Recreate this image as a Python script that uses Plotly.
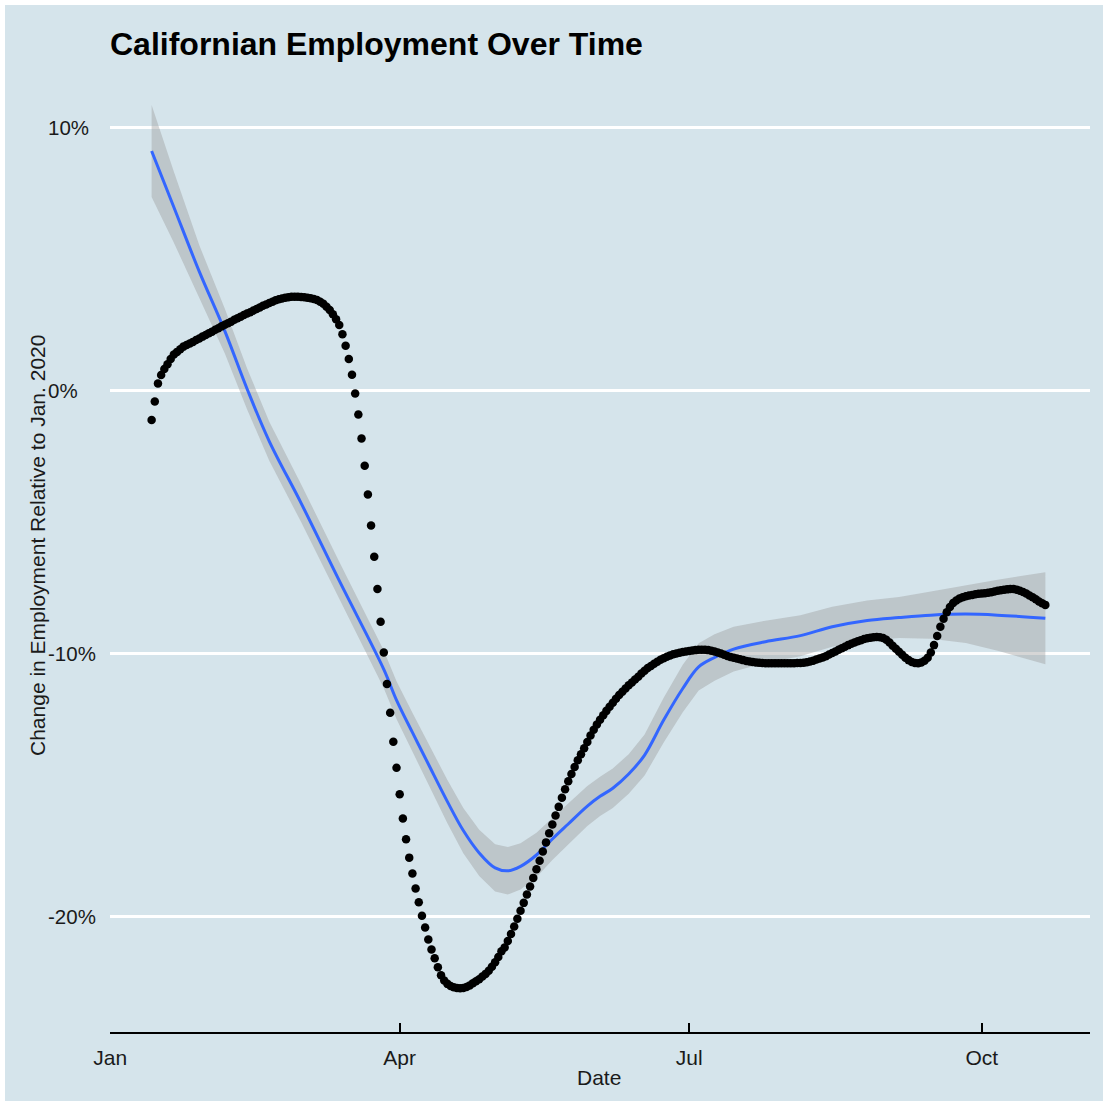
import pandas as pd
import plotly.graph_objects as go

TITLE = "Californian Employment Over Time"
Y_TITLE = "Change in Employment Relative to Jan. 2020"
X_TITLE = "Date"

# Daily change in employment (%) relative to January 2020, starting 14 Jan 2020
first_day = "2020-01-14"
employment_change = [
    -1.14, -0.44, 0.25, 0.57, 0.80, 0.98, 1.18, 1.35, 1.45, 1.55, 1.65, 1.71, 1.77, 1.83, 1.90,
    1.96, 2.03, 2.09, 2.16, 2.22, 2.29, 2.35, 2.42, 2.48, 2.54, 2.60, 2.67, 2.73, 2.79, 2.85,
    2.91, 2.96, 3.02, 3.08, 3.14, 3.20, 3.25, 3.31, 3.36, 3.41, 3.45, 3.48, 3.51, 3.53, 3.55,
    3.55, 3.55, 3.54, 3.53, 3.51, 3.49, 3.46, 3.42, 3.36, 3.28, 3.17, 3.04, 2.88, 2.69, 2.47,
    2.12, 1.68, 1.18, 0.58, -0.13, -0.93, -1.84, -2.88, -3.97, -5.15, -6.34, -7.57, -8.81, -9.98,
    -11.18, -12.27, -13.37, -14.36, -15.37, -16.29, -17.08, -17.78, -18.38, -18.95, -19.48,
    -19.99, -20.44, -20.89, -21.27, -21.61, -21.95, -22.25, -22.45, -22.58, -22.66, -22.71,
    -22.74, -22.75, -22.74, -22.70, -22.64, -22.56, -22.48, -22.40, -22.30, -22.20, -22.08,
    -21.93, -21.76, -21.56, -21.34, -21.20, -20.95, -20.68, -20.40, -20.10, -19.80, -19.50,
    -19.18, -18.88, -18.55, -18.22, -17.90, -17.55, -17.20, -16.85, -16.52, -16.18, -15.85,
    -15.50, -15.18, -14.88, -14.60, -14.33, -14.08, -13.85, -13.62, -13.38, -13.14, -12.92,
    -12.72, -12.54, -12.37, -12.20, -12.04, -11.89, -11.74, -11.60, -11.47, -11.35, -11.23,
    -11.12, -11.01, -10.90, -10.78, -10.67, -10.57, -10.49, -10.41, -10.33, -10.26, -10.20,
    -10.14, -10.09, -10.05, -10.02, -9.99, -9.96, -9.94, -9.92, -9.90, -9.89, -9.88, -9.88,
    -9.88, -9.89, -9.91, -9.94, -9.98, -10.02, -10.07, -10.11, -10.15, -10.18, -10.21, -10.24,
    -10.27, -10.30, -10.32, -10.34, -10.36, -10.37, -10.38, -10.39, -10.39, -10.39, -10.39,
    -10.39, -10.39, -10.39, -10.39, -10.39, -10.39, -10.38, -10.38, -10.37, -10.35, -10.32,
    -10.29, -10.25, -10.21, -10.17, -10.12, -10.06, -10.00, -9.94, -9.88, -9.82, -9.76, -9.70,
    -9.65, -9.60, -9.55, -9.51, -9.47, -9.44, -9.42, -9.40, -9.39, -9.40, -9.43, -9.50, -9.60,
    -9.72, -9.84, -9.95, -10.07, -10.18, -10.27, -10.34, -10.38, -10.39, -10.36, -10.29, -10.18,
    -9.98, -9.70, -9.35, -9.00, -8.70, -8.45, -8.25, -8.10, -8.00, -7.93, -7.88, -7.84, -7.81,
    -7.79, -7.77, -7.75, -7.74, -7.73, -7.71, -7.69, -7.66, -7.63, -7.61, -7.59, -7.58, -7.57,
    -7.57, -7.59, -7.63, -7.68, -7.74, -7.81, -7.88, -7.96, -8.04, -8.11, -8.17,
]

# Smoothed trend with the half-width of its confidence band
smooth_dates = [
    "2020-01-14", "2020-01-21", "2020-01-29", "2020-02-06", "2020-02-13", "2020-02-20",
    "2020-03-01", "2020-03-13", "2020-03-27", "2020-03-31", "2020-04-05", "2020-04-10",
    "2020-04-16", "2020-04-21", "2020-04-26", "2020-05-01", "2020-05-05", "2020-05-09",
    "2020-05-14", "2020-05-19", "2020-05-24", "2020-05-30", "2020-06-03", "2020-06-07",
    "2020-06-12", "2020-06-17", "2020-06-23", "2020-06-29", "2020-07-04", "2020-07-09",
    "2020-07-15", "2020-07-25", "2020-08-05", "2020-08-15", "2020-08-26", "2020-09-05",
    "2020-09-15", "2020-09-26", "2020-10-06", "2020-10-21",
]
smooth_fit = [
    9.09, 6.95, 4.50, 2.25, 0.05, -1.95,
    -4.30, -7.25, -10.62, -11.79, -13.02, -14.22,
    -15.65, -16.75, -17.60, -18.17, -18.28, -18.11,
    -17.68, -17.07, -16.50, -15.82, -15.45, -15.14,
    -14.60, -13.88, -12.55, -11.35, -10.53, -10.17,
    -9.85, -9.57, -9.34, -9.00, -8.76, -8.65,
    -8.56, -8.52, -8.56, -8.68,
]
smooth_se = [
    1.75, 1.35, 1.00, 0.85, 0.78, 0.74,
    0.72, 0.72, 0.72, 0.72, 0.75, 0.78,
    0.82, 0.86, 0.88, 0.90, 0.90, 0.88,
    0.85, 0.80, 0.78, 0.76, 0.75, 0.75,
    0.75, 0.78, 0.85, 0.90, 0.90, 0.88,
    0.85, 0.80, 0.78, 0.76, 0.76, 0.78,
    0.90, 1.10, 1.35, 1.75,
]

x_ticks = ["2020-01-01", "2020-04-01", "2020-07-01", "2020-10-01"]
x_tick_labels = ["Jan", "Apr", "Jul", "Oct"]
y_ticks = [-20, -10, 0, 10]
y_tick_labels = ["-20%", "-10%", "0%", "10%"]

BG = "#d5e4eb"
FONT = "Liberation Sans, Arial, Helvetica, sans-serif"
TEXT = "#1a1a1a"

dates = pd.date_range(first_day, periods=len(employment_change), freq="D")
sm_dates = pd.to_datetime(smooth_dates)
upper = [f + s for f, s in zip(smooth_fit, smooth_se)]
lower = [f - s for f, s in zip(smooth_fit, smooth_se)]

fig = go.Figure()

# confidence ribbon
fig.add_trace(go.Scatter(
    x=list(sm_dates) + list(sm_dates[::-1]),
    y=upper + lower[::-1],
    fill="toself",
    fillcolor="rgba(153,153,153,0.4)",
    line=dict(width=0),
    mode="lines",
    hoverinfo="skip",
    showlegend=False,
))
# smoothed trend line
fig.add_trace(go.Scatter(
    x=sm_dates, y=smooth_fit, mode="lines",
    line=dict(color="#3366FF", width=3, shape="spline", smoothing=1.0),
    showlegend=False,
))
# daily observations
fig.add_trace(go.Scatter(
    x=dates, y=employment_change, mode="markers",
    marker=dict(color="black", size=8.5, line=dict(width=0)),
    showlegend=False,
))

W, H = 1108, 1106
L, R, T, B = 110, 18, 56, 74
pw, ph = W - L - R, H - T - B


def px_x(px):
    return (px - L) / pw


def px_y(py):
    return (H - B - py) / ph


annotations = []
# left-aligned y tick labels
for v, lab in zip(y_ticks, y_tick_labels):
    annotations.append(dict(
        x=px_x(46), xref="paper", y=v, yref="y", text=lab, showarrow=False,
        xanchor="left", yanchor="middle", font=dict(size=20.5, color=TEXT, family=FONT),
    ))
# axis titles
annotations.append(dict(
    x=px_x(37), xref="paper", y=px_y(546), yref="paper", text=Y_TITLE, textangle=-90,
    showarrow=False, xanchor="center", yanchor="middle",
    font=dict(size=21, color=TEXT, family=FONT),
))
annotations.append(dict(
    x=px_x(599), xref="paper", y=px_y(1077), yref="paper", text=X_TITLE,
    showarrow=False, xanchor="center", yanchor="middle",
    font=dict(size=21, color=TEXT, family=FONT),
))

fig.update_layout(
    width=W, height=H,
    margin=dict(l=L, r=R, t=T, b=B),
    paper_bgcolor="white",
    plot_bgcolor="rgba(0,0,0,0)",
    title=dict(
        text=TITLE, x=0, xref="paper", xanchor="left",
        y=1 - 44 / H, yref="container", yanchor="middle",
        font=dict(size=32, color="black", family=FONT, weight="bold"),
    ),
    annotations=annotations,
    shapes=[dict(
        type="rect", xref="paper", yref="paper", layer="below",
        x0=px_x(5), x1=px_x(1103), y0=px_y(1101), y1=px_y(5),
        fillcolor=BG, line=dict(width=0),
    )],
    showlegend=False,
)

fig.update_xaxes(
    range=["2019-12-31 22:00", "2020-11-04 01:00"],
    tickvals=x_ticks, ticktext=x_tick_labels,
    ticks="inside", ticklen=9, tickwidth=2, tickcolor="black",
    ticklabelstandoff=6,
    showline=True, linecolor="black", linewidth=2,
    showgrid=False, zeroline=False,
    tickfont=dict(size=21, color=TEXT, family=FONT),
)
fig.update_yaxes(
    range=[-24.41, 12.70],
    tickvals=y_ticks, showticklabels=False, ticks="",
    showgrid=True, gridcolor="white", gridwidth=2.6,
    zeroline=False, showline=False,
)

fig.write_html("out.html")
